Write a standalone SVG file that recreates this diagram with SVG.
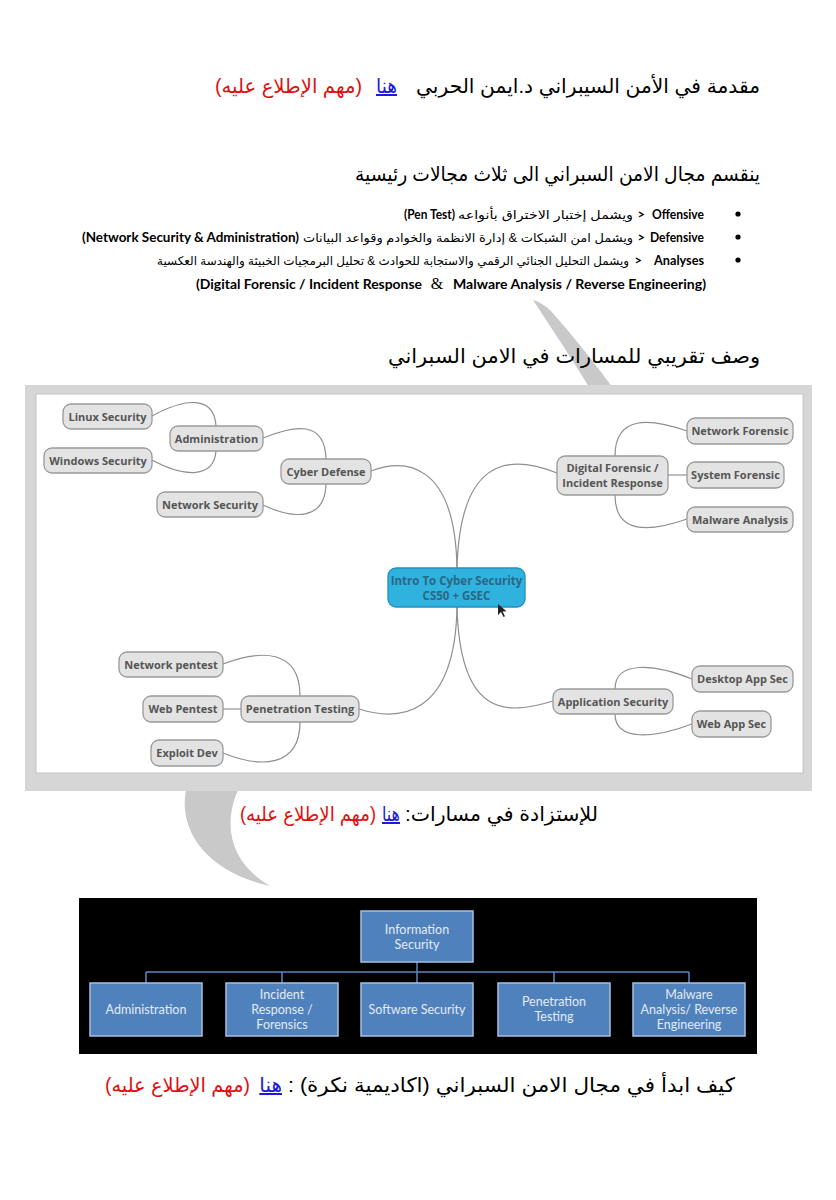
<svg xmlns="http://www.w3.org/2000/svg" width="836" height="1200" viewBox="0 0 836 1200">
<style>
.ar{font-family:"Liberation Sans","DejaVu Sans",sans-serif;font-size:20px;fill:#000;text-anchor:end}
.blue{fill:#1a1ad8;text-decoration:underline}
.red{fill:#e01010}
.bl{font-family:Lato,"Liberation Sans",sans-serif;font-weight:700;font-size:13px;fill:#000;text-anchor:end}
.gt{direction:ltr;unicode-bidi:bidi-override}
.sa{font-family:"Liberation Sans","DejaVu Sans",sans-serif;font-size:12px;fill:#000;text-anchor:end}
.node rect{fill:#e3e3e3;stroke:#9a9a9a;stroke-width:1.3}
.node text{font-family:"Open Sans",sans-serif;font-weight:700;font-size:11px;fill:#555;text-anchor:middle}
.conn path{fill:none;stroke:#8f8f8f;stroke-width:1.2}
.org rect{fill:#4f81bd;stroke:#a9c1e0;stroke-width:1.5}
.org text{font-family:Lato,sans-serif;font-size:12.5px;fill:#e3eaf3;text-anchor:middle}
.wm{fill:#c9c9c9}
</style>
<rect width="836" height="1200" fill="#fff"/>

<!-- watermark -->
<path class="wm" d="M533 300 C540 302 546 306 551 311 C575 338 596 365 616 392 L592 392 C574 362 554 332 533 300 Z"/>
<path class="wm" d="M186 790 C178 830 206 872 270 886 C236 866 220 832 238 790 Z"/>

<!-- headings -->
<text class="ar" x="760" y="93" textLength="344" lengthAdjust="spacingAndGlyphs">مقدمة في الأمن السيبراني د.ايمن الحربي</text>
<text class="ar blue" x="397" y="93" textLength="21" lengthAdjust="spacingAndGlyphs">هنا</text>
<text class="ar red" x="362" y="93" textLength="147" lengthAdjust="spacingAndGlyphs">(مهم الإطلاع عليه)</text>

<text class="ar" x="760" y="181" textLength="405" lengthAdjust="spacingAndGlyphs">ينقسم مجال الامن السبراني الى ثلاث مجالات رئيسية</text>

<g id="bullets">
<circle cx="738" cy="214" r="2.6"/>
<circle cx="738" cy="237" r="2.6"/>
<circle cx="738" cy="260" r="2.6"/>
<text class="bl" x="704" y="219" textLength="52" lengthAdjust="spacingAndGlyphs">Offensive</text>
<text class="bl gt" x="645" y="219">&gt;</text>
<text class="sa" x="633" y="219" textLength="175" lengthAdjust="spacingAndGlyphs">ويشمل إختبار الاختراق بأنواعه</text>
<text class="bl" x="455" y="219" textLength="51" lengthAdjust="spacingAndGlyphs">(Pen Test)</text>
<text class="bl" x="704" y="242" textLength="54" lengthAdjust="spacingAndGlyphs">Defensive</text>
<text class="bl gt" x="645" y="242">&gt;</text>
<text class="sa" x="633" y="242" textLength="330" lengthAdjust="spacingAndGlyphs">ويشمل امن الشبكات &amp; إدارة الانظمة والخوادم وقواعد البيانات</text>
<text class="bl" x="299" y="242" textLength="217" lengthAdjust="spacingAndGlyphs">(Network Security &amp; Administration)</text>
<text class="bl" x="704" y="265" textLength="50" lengthAdjust="spacingAndGlyphs">Analyses</text>
<text class="bl gt" x="642" y="265">&gt;</text>
<text class="sa" x="629" y="265" textLength="472" lengthAdjust="spacingAndGlyphs">ويشمل التحليل الجنائي الرقمي والاستجابة للحوادث &amp; تحليل البرمجيات الخبيثة والهندسة العكسية</text>
<text class="bl" x="706" y="289" textLength="253" lengthAdjust="spacingAndGlyphs">Malware Analysis / Reverse Engineering)</text>
<text x="437" y="289" font-family="Liberation Serif,serif" font-size="16" text-anchor="middle">&amp;</text>
<text class="bl" x="422" y="289" textLength="226" lengthAdjust="spacingAndGlyphs">(Digital Forensic / Incident Response</text>
</g>

<text class="ar" x="760" y="363" textLength="372" lengthAdjust="spacingAndGlyphs">وصف تقريبي للمسارات في الامن السبراني</text>

<!-- screenshot 1 -->
<rect x="25" y="385" width="787" height="406" fill="#d6d6d6"/>
<rect x="36" y="394" width="767" height="379" fill="#fff" stroke="#c4c4c4" stroke-width="1"/>

<g class="conn" id="connectors">
<path d="M371 471 C405 458 455 462 457 568"/>
<path d="M457 568 C460 462 505 452 557 473"/>
<path d="M359 709 C400 722 455 716 457 607"/>
<path d="M457 607 C460 716 505 716 553 701"/>
<path d="M152 416 C185 398 214 395 216 426"/>
<path d="M152 460 C185 478 214 478 216 451"/>
<path d="M263 438 C295 425 325 420 326 459"/>
<path d="M263 505 C295 520 325 520 326 484"/>
<path d="M687 431 C650 418 615 415 615 456"/>
<path d="M668 475 L687 475"/>
<path d="M687 519 C650 532 615 535 615 495"/>
<path d="M223 664 C260 650 300 648 300 696"/>
<path d="M223 709 L241 709"/>
<path d="M223 753 C260 768 300 768 300 722"/>
<path d="M692 679 C655 664 615 660 615 689"/>
<path d="M692 724 C655 738 615 742 615 714"/>
</g>

<g class="node" id="n-linux"><rect x="63" y="404" width="89" height="25" rx="8"/><text x="107.5" y="420.5">Linux Security</text></g>
<g class="node" id="n-admin"><rect x="170" y="426" width="93" height="25" rx="8"/><text x="216.5" y="442.5">Administration</text></g>
<g class="node" id="n-windows"><rect x="44" y="448" width="108" height="25" rx="8"/><text x="98" y="464.5">Windows Security</text></g>
<g class="node" id="n-cyberdef"><rect x="281" y="459" width="90" height="25" rx="8"/><text x="326" y="475.5">Cyber Defense</text></g>
<g class="node" id="n-netsec"><rect x="157" y="492" width="106" height="25" rx="8"/><text x="210" y="508.5">Network Security</text></g>

<g class="node" id="n-netfor"><rect x="687" y="418" width="106" height="26" rx="8"/><text x="740" y="435">Network Forensic</text></g>
<g class="node" id="n-dfir"><rect x="557" y="456" width="111" height="39" rx="8"/><text x="612.5" y="472">Digital Forensic /</text><text x="612.5" y="487">Incident Response</text></g>
<g class="node" id="n-sysfor"><rect x="687" y="462" width="97" height="26" rx="8"/><text x="735.5" y="479">System Forensic</text></g>
<g class="node" id="n-malware"><rect x="687" y="507" width="106" height="25" rx="8"/><text x="740" y="523.5">Malware Analysis</text></g>

<g class="node" id="n-center"><rect x="388" y="568" width="137" height="39" rx="8" style="fill:#2fb2de;stroke:#2390bb"/><text x="456.5" y="585" style="fill:#2a6785;font-size:11.5px">Intro To Cyber Security</text><text x="456.5" y="600" style="fill:#2a6785;font-size:11.5px">CS50 + GSEC</text></g>
<path d="M498 604 L498 615 L501 612 L503.5 617 L505 616.3 L502.6 611.4 L506.5 611.2 Z" fill="#222"/>

<g class="node" id="n-netpen"><rect x="119" y="652" width="104" height="25" rx="8"/><text x="171" y="668.5">Network pentest</text></g>
<g class="node" id="n-webpen"><rect x="143" y="696" width="80" height="26" rx="8"/><text x="183" y="713">Web Pentest</text></g>
<g class="node" id="n-pentest"><rect x="241" y="696" width="118" height="26" rx="8"/><text x="300" y="713">Penetration Testing</text></g>
<g class="node" id="n-exploit"><rect x="151" y="740" width="72" height="26" rx="8"/><text x="187" y="757">Exploit Dev</text></g>

<g class="node" id="n-desktop"><rect x="692" y="666" width="101" height="26" rx="8"/><text x="742.5" y="683">Desktop App Sec</text></g>
<g class="node" id="n-appsec"><rect x="553" y="689" width="120" height="25" rx="8"/><text x="613" y="705.5">Application Security</text></g>
<g class="node" id="n-webapp"><rect x="692" y="711" width="79" height="26" rx="8"/><text x="731.5" y="728">Web App Sec</text></g>

<!-- line 4 -->
<text class="ar" x="598" y="821" textLength="193" lengthAdjust="spacingAndGlyphs">للإستزادة في مسارات:&#x200F;</text>
<text class="ar blue" x="400" y="821" textLength="18" lengthAdjust="spacingAndGlyphs">هنا</text>
<text class="ar red" x="376" y="821" textLength="136" lengthAdjust="spacingAndGlyphs">(مهم الإطلاع عليه)</text>

<!-- screenshot 2 -->
<rect x="79" y="898" width="678" height="156" fill="#000"/>
<g class="conn" id="org-connectors"><path d="M417 962 V972 M146 972 H689 M146 972 V983 M282 972 V983 M417 972 V983 M554 972 V983 M689 972 V983" style="stroke:#5a86bd;stroke-width:1.5"/></g>
<g class="org" id="o-info"><rect x="361" y="911" width="112" height="51"/><text x="417" y="934">Information</text><text x="417" y="949">Security</text></g>
<g class="org" id="o-admin"><rect x="90" y="983" width="112" height="53"/><text x="146" y="1014">Administration</text></g>
<g class="org" id="o-ir"><rect x="226" y="983" width="112" height="53"/><text x="282" y="999">Incident</text><text x="282" y="1014">Response /</text><text x="282" y="1029">Forensics</text></g>
<g class="org" id="o-soft"><rect x="361" y="983" width="112" height="53"/><text x="417" y="1014">Software Security</text></g>
<g class="org" id="o-pen"><rect x="498" y="983" width="112" height="53"/><text x="554" y="1006">Penetration</text><text x="554" y="1021">Testing</text></g>
<g class="org" id="o-mal"><rect x="633" y="983" width="112" height="53"/><text x="689" y="999">Malware</text><text x="689" y="1014">Analysis/ Reverse</text><text x="689" y="1029">Engineering</text></g>

<!-- line 5 -->
<text class="ar" x="735" y="1092" textLength="447" lengthAdjust="spacingAndGlyphs">كيف ابدأ في مجال الامن السبراني (اكاديمية نكرة) :&#x200F;</text>
<text class="ar blue" x="282" y="1092">هنا</text>
<text class="ar red" x="250" y="1092" textLength="145" lengthAdjust="spacingAndGlyphs">(مهم الإطلاع عليه)</text>
</svg>
